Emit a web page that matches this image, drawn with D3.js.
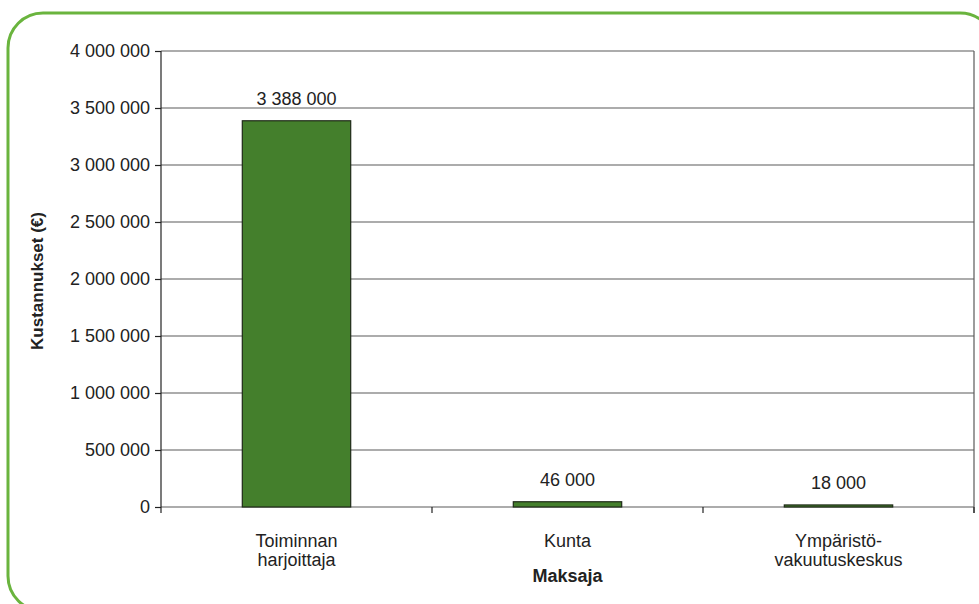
<!DOCTYPE html>
<html>
<head>
<meta charset="utf-8">
<script src="https://cdn.jsdelivr.net/npm/d3@7/dist/d3.min.js"></script>
<style>
  html, body { margin: 0; padding: 0; background: #fff; }
  svg { display: block; font-family: "Liberation Sans", Arial, Helvetica, sans-serif; }
</style>
</head>
<body>
<svg id="chart" width="979" height="604"></svg>
<script>
// Kustannusten jakautuminen maksajittain
const categories = ["Toiminnan harjoittaja", "Kunta", "Ympäristövakuutuskeskus"];
const categoryLines = [["Toiminnan", "harjoittaja"], ["Kunta"], ["Ympäristö-", "vakuutuskeskus"]];
const values = [3388000, 46000, 18000];
const yTicks = [0, 500000, 1000000, 1500000, 2000000, 2500000, 3000000, 3500000, 4000000];
const yTitle = "Kustannukset (€)";
const xTitle = "Maksaja";

const svg = d3.select("#chart");
const plotLeft = 161, plotRight = 974, plotTop = 51, plotBottom = 507;

const fmt = v => d3.format(",")(v).replace(/,/g, " ");

// rounded green frame
svg.append("rect")
  .attr("x", 8).attr("y", 13)
  .attr("width", 987).attr("height", 598)
  .attr("rx", 35).attr("ry", 35)
  .attr("fill", "none")
  .attr("stroke", "#6ab43e")
  .attr("stroke-width", 3);

const x = d3.scaleBand().domain(categories).range([plotLeft, plotRight]).padding(0);
const y = d3.scaleLinear().domain([0, 4000000]).range([plotBottom, plotTop]);

// horizontal grid lines
svg.append("g")
  .selectAll("line")
  .data(yTicks)
  .join("line")
  .attr("x1", plotLeft).attr("x2", plotRight)
  .attr("y1", d => y(d)).attr("y2", d => y(d))
  .attr("stroke", "#5a5a5a")
  .attr("stroke-width", 1.2);

// right frame line
svg.append("line")
  .attr("x1", plotRight).attr("x2", plotRight)
  .attr("y1", y(4000000)).attr("y2", plotBottom + 6)
  .attr("stroke", "#5a5a5a").attr("stroke-width", 1.2);

// y axis
const yAxis = d3.axisLeft(y).tickValues(yTicks).tickFormat(fmt).tickSize(6).tickPadding(5);
const gy = svg.append("g").attr("transform", `translate(${plotLeft},0)`).call(yAxis);
gy.select(".domain").remove();
gy.append("line").attr("x1", 0).attr("x2", 0).attr("y1", plotTop).attr("y2", plotBottom + 6)
  .attr("stroke", "#222").attr("stroke-width", 1.2);
gy.selectAll(".tick line").attr("stroke", "#222").attr("stroke-width", 1.2);
gy.selectAll(".tick text").attr("fill", "#222").style("font-size", "18px")
  .style("font-family", "'Liberation Sans', Arial, sans-serif");

// x axis ticks at category boundaries
svg.append("g")
  .selectAll("line")
  .data(categories)
  .join("line")
  .attr("x1", d => x(d) + x.step()).attr("x2", d => x(d) + x.step())
  .attr("y1", plotBottom).attr("y2", plotBottom + 6)
  .attr("stroke", "#222").attr("stroke-width", 1.2);

// bars
const barW = x.bandwidth() * 0.4;
svg.append("g")
  .selectAll("rect")
  .data(categories)
  .join("rect")
  .attr("x", d => x(d) + (x.bandwidth() - barW) / 2)
  .attr("y", (d, i) => y(values[i]))
  .attr("width", barW)
  .attr("height", (d, i) => y(0) - y(values[i]))
  .attr("fill", "#447f2c")
  .attr("stroke", "#1f2a18")
  .attr("stroke-width", 1.2);

// value labels
svg.append("g")
  .selectAll("text")
  .data(categories)
  .join("text")
  .attr("x", d => x(d) + x.bandwidth() / 2)
  .attr("y", (d, i) => y(values[i]) - 16)
  .attr("text-anchor", "middle")
  .attr("fill", "#222")
  .style("font-size", "18px")
  .text((d, i) => fmt(values[i]));

// category labels
const cat = svg.append("g")
  .selectAll("text")
  .data(categories)
  .join("text")
  .attr("x", d => x(d) + x.bandwidth() / 2)
  .attr("y", 547)
  .attr("text-anchor", "middle")
  .attr("fill", "#222")
  .style("font-size", "18px");
cat.selectAll("tspan")
  .data((d, i) => categoryLines[i].map(t => ({ t, cx: x(d) + x.bandwidth() / 2 })))
  .join("tspan")
  .attr("x", d => d.cx)
  .attr("dy", (d, i) => i === 0 ? 0 : 19)
  .text(d => d.t);

// axis titles
svg.append("text")
  .attr("x", x("Kunta") + x.bandwidth() / 2)
  .attr("y", 582)
  .attr("text-anchor", "middle")
  .attr("fill", "#222")
  .style("font-size", "18px")
  .style("font-weight", "bold")
  .text(xTitle);

svg.append("text")
  .attr("transform", `translate(43,${(plotTop + plotBottom) / 2 + 2}) rotate(-90)`)
  .attr("text-anchor", "middle")
  .attr("fill", "#222")
  .style("font-size", "17px")
  .style("font-weight", "bold")
  .text(yTitle);
</script>
</body>
</html>
